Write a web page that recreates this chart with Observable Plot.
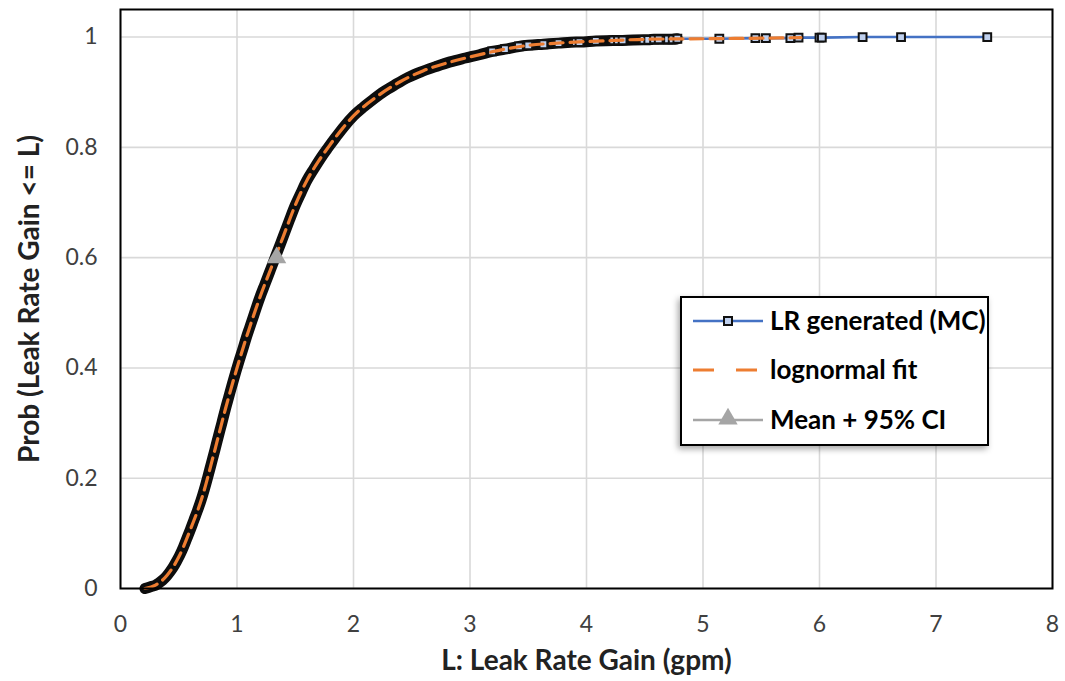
<!DOCTYPE html>
<html>
<head>
<meta charset="utf-8">
<script src="https://cdn.jsdelivr.net/npm/d3@7"></script>
<script src="https://cdn.jsdelivr.net/npm/@observablehq/plot@0.6"></script>
<style>
  html, body { margin: 0; padding: 0; background: #fff; }
  #chart { width: 1065px; height: 681px; }
</style>
</head>
<body>
<div id="chart"></div>
<script>
// ---- Data ----
// Monte Carlo generated leak rates (empirical CDF)
const mcX = [0.21,0.24,0.27,0.30,0.33,0.36,0.39,0.42,0.45,0.48,0.51,0.54,0.57,0.60,0.63,0.66,0.69,0.72,0.75,0.78,
  0.81,0.84,0.87,0.90,0.93,0.96,0.99,1.02,1.05,1.08,1.11,1.14,1.17,1.20,1.24,1.28,1.32,1.36,1.40,1.45,
  1.50,1.55,1.60,1.66,1.72,1.78,1.85,1.92,2.00,2.08,2.17,2.26,2.36,2.47,2.58,2.70,2.83,2.96,3.08,3.19,
  3.30,3.42,3.50,3.63,3.76,3.91,3.94,4.08,4.23,4.27,4.31,4.49,4.53,4.58,4.62,4.70,4.74,4.78,5.14,5.45,
  5.54,5.75,5.82,6.00,6.02,6.37,6.70,7.44];
const mcY = [0.000,0.002,0.004,0.006,0.010,0.015,0.021,0.029,0.038,0.049,0.061,0.075,0.091,0.107,0.124,0.141,0.159,0.180,0.203,0.227,
  0.251,0.276,0.300,0.325,0.348,0.371,0.393,0.414,0.434,0.455,0.474,0.493,0.512,0.530,0.552,0.574,0.596,0.618,0.640,0.668,
  0.695,0.718,0.740,0.761,0.781,0.799,0.819,0.838,0.857,0.872,0.887,0.901,0.914,0.927,0.937,0.946,0.955,0.962,0.968,0.974,
  0.978,0.983,0.985,0.987,0.989,0.991,0.991,0.993,0.994,0.994,0.994,0.995,0.995,0.996,0.996,0.996,0.996,0.997,0.997,0.998,
  0.998,0.998,0.999,0.999,0.999,1.000,1.000,1.000];

// Lognormal fit curve
const fitX = [0.21,0.30,0.40,0.50,0.60,0.70,0.80,0.90,1.00,1.10,1.20,1.30,1.40,1.50,1.60,1.70,1.80,1.90,2.00,2.20,
  2.40,2.60,2.80,3.00,3.25,3.50,3.75,4.00,4.25,4.50,5.00,5.50,5.84];
const fitY = [0.000,0.006,0.024,0.057,0.107,0.165,0.243,0.325,0.400,0.468,0.530,0.585,0.640,0.695,0.740,0.775,0.805,0.833,0.857,0.892,
  0.919,0.939,0.953,0.964,0.976,0.985,0.989,0.992,0.994,0.996,0.997,0.998,0.999];

// Mean + 95% CI point
const meanX = [1.34];
const meanY = [0.60];

// Axes
const xTicks = [0,1,2,3,4,5,6,7,8];
const yTicks = [0,0.2,0.4,0.6,0.8,1];
const xTitle = "L: Leak Rate Gain (gpm)";
const yTitle = "Prob (Leak Rate Gain <= L)";
const seriesNames = ["LR generated (MC)", "lognormal fit", "Mean + 95% CI"];

// ---- Build tables ----
const mc = mcX.map((x, i) => ({x, y: mcY[i]}));
const fit = fitX.map((x, i) => ({x, y: fitY[i]}));
const mean = meanX.map((x, i) => ({x, y: meanY[i]}));

const BLUE = "#4472C4", ORANGE = "#ED7D31", GRAY = "#A5A5A5", MFILL = "#bfd0ee";
const FONT = "Lato, 'Open Sans', sans-serif";

const chart = Plot.plot({
  width: 1065,
  height: 681,
  marginLeft: 120,
  marginRight: 13,
  marginTop: 9,
  marginBottom: 93,
  style: {fontFamily: FONT, background: "#fff", overflow: "visible"},
  x: {domain: [0, 8]},
  y: {domain: [0, 1.05]},
  marks: [
    Plot.gridX(xTicks, {stroke: "#d9d9d9", strokeOpacity: 1, strokeWidth: 1.6}),
    Plot.gridY(yTicks, {stroke: "#d9d9d9", strokeOpacity: 1, strokeWidth: 1.6}),
    Plot.axisX(xTicks, {tickSize: 0, tickPadding: 27, fontSize: 23, fill: "#404040", label: null, tickFormat: d => String(d)}),
    Plot.axisY(yTicks, {tickSize: 0, tickPadding: 23, fontSize: 23, fill: "#404040", label: null, tickFormat: d => String(d)}),
    // MC series: connecting line
    Plot.line(mc, {x: "x", y: "y", stroke: BLUE, strokeWidth: 2.6}),
    // densely overlapping marker outlines form a dark band
    Plot.line(mc.filter(d => d.x <= 4.8), {x: "x", y: "y", stroke: "#0d0d0d", strokeWidth: 11, strokeLinecap: "round", strokeLinejoin: "round", curve: "monotone-x"}),
    // distinguishable square markers
    Plot.dot(mc.filter(d => d.x >= 3.1), {x: "x", y: "y", symbol: "square", r: 4.4, fill: MFILL, stroke: "#111", strokeWidth: 2}),
    // lognormal fit
    Plot.line(fit, {x: "x", y: "y", stroke: ORANGE, strokeWidth: 3.2, strokeDasharray: "13,7", curve: "monotone-x"}),
    // mean point
    Plot.dot(mean, {x: "x", y: "y", symbol: "triangle", r: 7.2, fill: GRAY, stroke: "none"}),
    Plot.frame({stroke: "#000", strokeWidth: 2}),
    Plot.text([xTitle], {frameAnchor: "bottom", dy: 73, fontSize: 28, fontWeight: "bold", fill: "#222", lineAnchor: "middle", textAnchor: "middle"}),
    Plot.text([yTitle], {frameAnchor: "left", dx: -90, rotate: -90, fontSize: 28, fontWeight: "bold", fill: "#222", lineAnchor: "middle", textAnchor: "middle"})
  ]
});

document.getElementById("chart").appendChild(chart);

// ---- Legend inside the plot area ----
const svg = d3.select(chart);
const defs = svg.append("defs");
const f = defs.append("filter").attr("id", "shadow").attr("x", "-10%").attr("y", "-10%").attr("width", "130%").attr("height", "130%");
f.append("feDropShadow").attr("dx", -2).attr("dy", 3).attr("stdDeviation", 3).attr("flood-color", "#000").attr("flood-opacity", 0.35);

const lg = svg.append("g").attr("font-family", FONT).attr("text-anchor", "start");
lg.append("rect").attr("x", 681).attr("y", 297).attr("width", 307).attr("height", 148)
  .attr("fill", "#fff").attr("stroke", "#000").attr("stroke-width", 2).attr("filter", "url(#shadow)");

const rows = [330, 379, 428.5];
const lineY = [321, 370, 420];
// row 1
lg.append("line").attr("x1", 693).attr("x2", 763).attr("y1", lineY[0]).attr("y2", lineY[0]).attr("stroke", BLUE).attr("stroke-width", 2.6);
lg.append("rect").attr("x", 724).attr("y", lineY[0] - 4).attr("width", 8).attr("height", 8).attr("fill", MFILL).attr("stroke", "#111").attr("stroke-width", 2);
// row 2
lg.append("line").attr("x1", 693).attr("x2", 763).attr("y1", lineY[1]).attr("y2", lineY[1]).attr("stroke", ORANGE).attr("stroke-width", 3.2).attr("stroke-dasharray", "21,22");
// row 3
lg.append("line").attr("x1", 693).attr("x2", 763).attr("y1", lineY[2]).attr("y2", lineY[2]).attr("stroke", GRAY).attr("stroke-width", 2.6);
lg.append("path").attr("d", d3.symbol(d3.symbolTriangle, Math.PI * 7.2 * 7.2)()).attr("transform", `translate(728,${lineY[2] - 1})`).attr("fill", GRAY);

seriesNames.forEach((name, i) => {
  lg.append("text").attr("x", 770).attr("y", rows[i]).attr("font-size", 26).attr("font-weight", "bold").attr("fill", "#000").attr("text-anchor", "start").text(name);
});
</script>
</body>
</html>
